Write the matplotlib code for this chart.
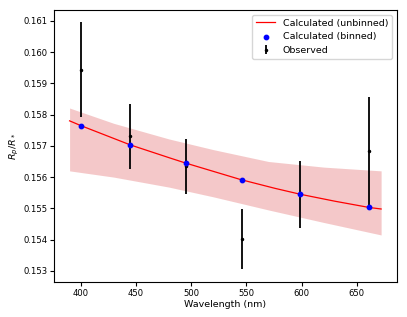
import numpy as np
import matplotlib.pyplot as plt

plt.rcParams['font.size'] = 6.8
plt.rcParams['xtick.labelsize'] = 6.1
plt.rcParams['ytick.labelsize'] = 6.1
plt.rcParams['xtick.major.size'] = 3
plt.rcParams['ytick.major.size'] = 3
plt.rcParams['xtick.major.pad'] = 2
plt.rcParams['ytick.major.pad'] = 1.5

# Observed transit depths --------------------------------------------
obs_wl = [400, 445, 495, 546, 599, 661]
obs_rp = [0.15943, 0.15730, 0.15634, 0.15401, 0.15545, 0.15682]
obs_err = [0.00152, 0.00105, 0.00088, 0.00096, 0.00108, 0.00174]

# Calculated (binned) ------------------------------------------------
bin_rp = [0.15765, 0.15703, 0.15645, 0.15592, 0.15545, 0.15503]

# Calculated (unbinned) model curve ----------------------------------
mod_wl = [390, 400, 445, 481, 495, 545, 576, 599, 630, 661, 672]
mod_rp = [0.15780, 0.15765, 0.15703, 0.15661, 0.15645, 0.15592,
          0.15564, 0.15545, 0.15523, 0.15503, 0.15498]

# Uncertainty band ---------------------------------------------------
band_wl = [390, 430, 480, 520, 570, 620, 672]
band_hi = [0.15821, 0.15772, 0.15722, 0.15688, 0.15650, 0.15632, 0.15620]
band_lo = [0.15620, 0.15600, 0.15568, 0.15537, 0.15495, 0.15455, 0.15415]

fig = plt.figure(figsize=(4.07, 3.17), dpi=100)
ax = fig.add_axes([0.1327, 0.1114, 0.842, 0.857])

ax.fill_between(band_wl, band_lo, band_hi, color='tab:red', alpha=0.25, lw=0)
ax.plot(mod_wl, mod_rp, color='red', lw=0.9, label='Calculated (unbinned)')
ax.scatter(obs_wl, bin_rp, color='blue', s=10, zorder=3, label='Calculated (binned)')
ax.errorbar(obs_wl, obs_rp, yerr=obs_err, fmt='.', color='black', ms=3,
            elinewidth=1.3, label='Observed')

ax.set_xticks([400, 450, 500, 550, 600, 650])
ax.set_yticks(np.arange(0.153, 0.1615, 0.001))
ax.set_xlabel('Wavelength (nm)', labelpad=2)
ax.set_ylabel('$R_p/R_*$')
ax.yaxis.set_label_coords(-0.096, 0.5)
ax.legend(loc='upper right')

plt.savefig('out.png', dpi=100)
